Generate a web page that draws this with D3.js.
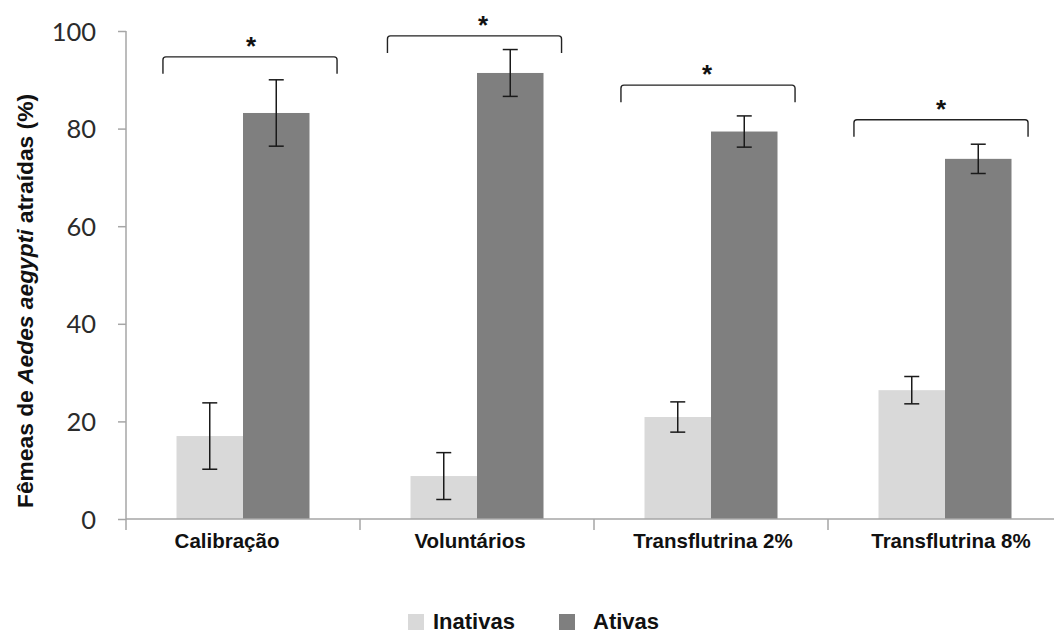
<!DOCTYPE html>
<html>
<head>
<meta charset="utf-8">
<script src="https://cdn.jsdelivr.net/npm/d3@7"></script>
<style>
  html, body { margin: 0; padding: 0; background: #fff; }
  svg { display: block; }
</style>
</head>
<body>
<svg id="chart" width="1054" height="634"></svg>
<script>
// Attraction of Aedes aegypti females: inactive vs active traps per treatment
const categories = ["Calibração", "Voluntários", "Transflutrina 2%", "Transflutrina 8%"];
const seriesNames = ["Inativas", "Ativas"];
const inativas = [17.0, 8.8, 20.9, 26.4];
const inativasErr = [6.8, 4.8, 3.1, 2.8];
const ativas = [83.2, 91.4, 79.4, 73.8];
const ativasErr = [6.8, 4.8, 3.2, 3.0];
// height (in %) of the significance bracket above each group
const bracketLevel = [94.7, 99.0, 88.9, 81.8];
const yTicks = [0, 20, 40, 60, 80, 100];

const colors = { Inativas: "#d9d9d9", Ativas: "#7f7f7f" };

const svg = d3.select("#chart");
const plot = { left: 126, right: 1062, top: 31, bottom: 519 };

const x = d3.scaleBand().domain(categories).range([plot.left, plot.right]).padding(0);
const barW = 66.5;
const xs = d3.scaleBand().domain(seriesNames)
  .range([x.bandwidth() / 2 - barW, x.bandwidth() / 2 + barW]).padding(0);
const y = d3.scaleLinear().domain([0, 100]).range([plot.bottom, plot.top]);

// hand-placed offsets of annotations within each group
const bracketNudge = [7, -2.5, -3, -4];
const starNudge = [8, 6, -4, -4];
const labelNudge = [-16, -7, 2, 6];

const rows = categories.map((c, i) => ({
  cat: c,
  i: i,
  vals: [
    { s: "Inativas", v: inativas[i], e: inativasErr[i] },
    { s: "Ativas", v: ativas[i], e: ativasErr[i] }
  ],
  bracket: bracketLevel[i]
}));

// bars
const groups = svg.append("g").selectAll("g").data(rows).join("g")
  .attr("transform", d => `translate(${x(d.cat)},0)`);
groups.selectAll("rect").data(d => d.vals).join("rect")
  .attr("x", d => xs(d.s))
  .attr("width", xs.bandwidth())
  .attr("y", d => y(d.v))
  .attr("height", d => y(0) - y(d.v))
  .attr("fill", d => colors[d.s]);

// error bars
const capW = 15;
const eb = groups.selectAll("g.err").data(d => d.vals).join("g").attr("class", "err")
  .attr("stroke", "#1a1a1a").attr("stroke-width", 1.5).attr("fill", "none");
eb.append("line")
  .attr("x1", d => xs(d.s) + xs.bandwidth() / 2).attr("x2", d => xs(d.s) + xs.bandwidth() / 2)
  .attr("y1", d => y(d.v + d.e)).attr("y2", d => y(d.v - d.e));
eb.append("line")
  .attr("x1", d => xs(d.s) + xs.bandwidth() / 2 - capW / 2).attr("x2", d => xs(d.s) + xs.bandwidth() / 2 + capW / 2)
  .attr("y1", d => y(d.v + d.e)).attr("y2", d => y(d.v + d.e));
eb.append("line")
  .attr("x1", d => xs(d.s) + xs.bandwidth() / 2 - capW / 2).attr("x2", d => xs(d.s) + xs.bandwidth() / 2 + capW / 2)
  .attr("y1", d => y(d.v - d.e)).attr("y2", d => y(d.v - d.e));

// significance brackets with asterisk
const halfSpan = x.bandwidth() * 0.372;
const drop = 17, r = 3;
groups.append("path")
  .attr("fill", "none").attr("stroke", "#222").attr("stroke-width", 1.4)
  .attr("d", d => {
    const cx = x.bandwidth() / 2 + bracketNudge[d.i];
    const x0 = cx - halfSpan, x1 = cx + halfSpan, yb = y(d.bracket);
    const p = d3.path();
    p.moveTo(x0, yb + drop);
    p.lineTo(x0, yb + r);
    p.arcTo(x0, yb, x0 + r, yb, r);
    p.lineTo(x1 - r, yb);
    p.arcTo(x1, yb, x1, yb + r, r);
    p.lineTo(x1, yb + drop);
    return p.toString();
  });
groups.append("text")
  .attr("x", d => x.bandwidth() / 2 + starNudge[d.i])
  .attr("y", d => y(d.bracket) - 17 + 15)
  .attr("text-anchor", "middle")
  .attr("font-family", "Liberation Sans, Arial, sans-serif")
  .attr("font-weight", "bold")
  .attr("font-size", 26)
  .attr("fill", "#111")
  .text("*");

// y axis
const yAxis = svg.append("g").attr("transform", `translate(${plot.left},0)`)
  .call(d3.axisLeft(y).tickValues(yTicks).tickSize(8).tickPadding(22));
yAxis.select(".domain").remove();
yAxis.append("line").attr("x1", 0).attr("x2", 0)
  .attr("y1", plot.top).attr("y2", plot.bottom + 11)
  .attr("stroke", "#a6a6a6").attr("stroke-width", 1.5);
yAxis.selectAll(".tick line").attr("stroke", "#a6a6a6").attr("stroke-width", 1.5);
yAxis.selectAll(".tick text")
  .attr("font-family", "Lato, Carlito, Calibri, sans-serif")
  .attr("font-size", 25.5).attr("fill", "#2b2b2b").attr("dy", "0.36em");

// x axis: baseline, boundary ticks, category labels
const xAxis = svg.append("g");
xAxis.append("line").attr("x1", plot.left).attr("x2", plot.right)
  .attr("y1", plot.bottom).attr("y2", plot.bottom)
  .attr("stroke", "#a6a6a6").attr("stroke-width", 1.5);
xAxis.selectAll("line.bound").data(categories.slice(1)).join("line").attr("class", "bound")
  .attr("x1", d => x(d)).attr("x2", d => x(d))
  .attr("y1", plot.bottom).attr("y2", plot.bottom + 11)
  .attr("stroke", "#a6a6a6").attr("stroke-width", 1.5);
xAxis.selectAll("text").data(categories).join("text")
  .attr("x", (d, i) => x(d) + x.bandwidth() / 2 + labelNudge[i])
  .attr("y", 548)
  .attr("text-anchor", "middle")
  .attr("font-family", "Liberation Sans, Arial, sans-serif")
  .attr("font-weight", "bold").attr("font-size", 20.5).attr("fill", "#111")
  .text(d => d);

// y axis title
const title = svg.append("text")
  .attr("transform", "translate(33,301) rotate(-90)")
  .attr("text-anchor", "middle")
  .attr("font-family", "Liberation Sans, Arial, sans-serif")
  .attr("font-weight", "bold").attr("font-size", 22).attr("fill", "#111")
  .attr("textLength", 414).attr("lengthAdjust", "spacingAndGlyphs");
title.append("tspan").text("Fêmeas de ");
title.append("tspan").attr("font-style", "italic").text("Aedes aegypti");
title.append("tspan").text(" atraídas (%)");

// legend
const legendX = [408, 559];
const legend = svg.append("g").selectAll("g").data(seriesNames).join("g")
  .attr("transform", (d, i) => `translate(${legendX[i]},614)`);
legend.append("rect").attr("width", 16).attr("height", 16).attr("fill", d => colors[d]);
legend.append("text")
  .attr("x", (d, i) => i === 0 ? 25 : 34).attr("y", 15)
  .attr("font-family", "Liberation Sans, Arial, sans-serif")
  .attr("font-weight", "bold").attr("font-size", 22).attr("fill", "#111")
  .text(d => d);
</script>
</body>
</html>
